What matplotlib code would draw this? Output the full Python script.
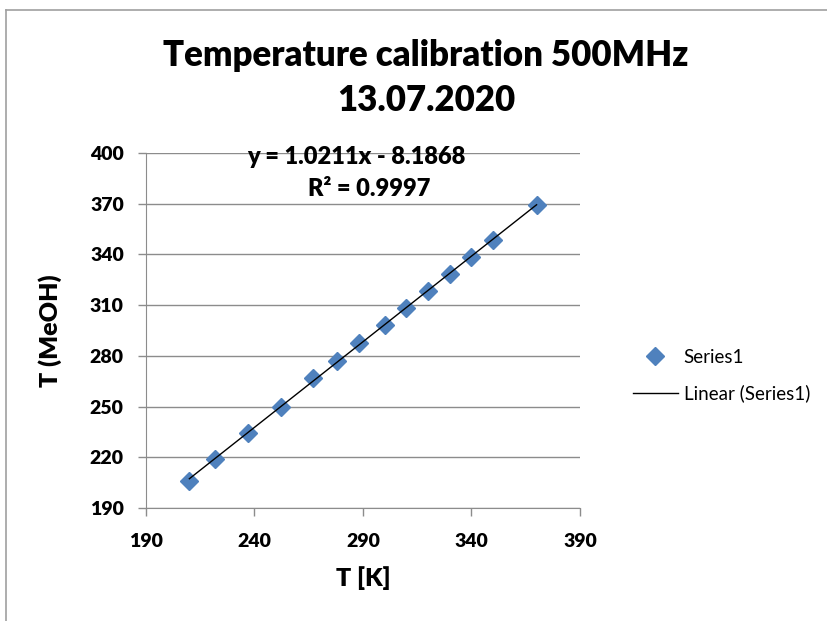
import numpy as np
import matplotlib
matplotlib.use("Agg")
import matplotlib.pyplot as plt
from matplotlib.lines import Line2D

plt.rcParams['font.family'] = ['Lato', 'DejaVu Sans']

# measured temperature vs. temperature from MeOH shift
t_k = [210, 222, 237, 252, 267, 278, 288, 300, 310, 320, 330, 340, 350, 370]
t_meoh = [206, 219, 234.5, 250, 267, 277, 287.5, 298, 308.5, 318.5, 328.5, 338.5, 348.5, 369.5]
x_ticks = [190, 240, 290, 340, 390]
y_ticks = [190, 220, 250, 280, 310, 340, 370, 400]

blue = '#4F81BD'
grey = '#8C8C8C'
W = 'heavy'

fig = plt.figure(figsize=(8.27, 6.21), dpi=100)
ax = fig.add_axes([0.1765, 0.182, 0.5248, 0.5716])

# outer chart border (only left and top visible in the crop)
fig.add_artist(Line2D([0.0073, 0.0073], [0, 0.984], transform=fig.transFigure, color='#A0A0A0', lw=1.2))
fig.add_artist(Line2D([0.0073, 1], [0.984, 0.984], transform=fig.transFigure, color='#A0A0A0', lw=1.2))

ax.plot(t_k, t_meoh, linestyle='none', marker='D', markersize=9, color=blue, zorder=3)

coef = np.polyfit(t_k, t_meoh, 1)
xs = np.array([min(t_k), max(t_k)])
ax.plot(xs, np.polyval(coef, xs), color='black', lw=1.0, zorder=4)

ax.set_xlim(190, 390)
ax.set_ylim(190, 400)
ax.set_xticks(x_ticks)
ax.set_yticks(y_ticks)
ax.yaxis.grid(True, color=grey, lw=1.0)
ax.set_axisbelow(True)
for s in ['top', 'right']:
    ax.spines[s].set_visible(False)
for s in ['left', 'bottom']:
    ax.spines[s].set_color(grey)
ax.tick_params(colors=grey, length=6, width=1.0, labelcolor='black', labelsize=14)
for lbl in ax.get_xticklabels() + ax.get_yticklabels():
    lbl.set_fontweight(W)
ax.tick_params(axis='x', pad=12)
ax.tick_params(axis='y', pad=10)

ax.set_xlabel('T [K]', fontsize=18, fontweight=W, labelpad=12)
ax.set_ylabel('T (MeOH)', fontsize=18, fontweight=W, labelpad=20)

fig.text(0.515, 0.91, 'Temperature calibration 500MHz', ha='center', va='center',
         fontsize=25, fontweight=W)
fig.text(0.515, 0.838, '13.07.2020', ha='center', va='center', fontsize=25, fontweight=W)

ax.text(0.485, 0.988, 'y = 1.0211x - 8.1868', transform=ax.transAxes, ha='center', va='center',
        fontsize=17, fontweight=W)
ax.text(0.515, 0.90, 'R² = 0.9997', transform=ax.transAxes, ha='center', va='center',
        fontsize=17, fontweight=W)

handles = [Line2D([], [], linestyle='none', marker='D', markersize=9, color=blue),
           Line2D([], [], color='black', lw=1.0)]
fig.legend(handles, ['Series1', 'Linear (Series1)'], loc='center left',
           bbox_to_anchor=(0.745, 0.395), frameon=False, fontsize=13.5,
           handlelength=2.4, handletextpad=0.3, labelspacing=1.0)

fig.savefig('out.png', dpi=100)
